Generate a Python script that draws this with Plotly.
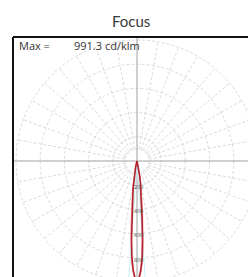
import numpy as np
import plotly.graph_objects as go

# ---- data ----
title_text = "Focus"
max_label = "Max ="
max_value_text = "991.3 cd/klm"
gamma_deg = [0, 1, 2, 3, 4, 5, 6, 7, 8, 9, 10, 12, 15, 20, 30, 45, 60, 75, 90]
plane_c0 = [991.3, 965, 900, 800, 650, 480, 360, 280, 225, 175, 125, 60, 22, 6, 2, 1, 0, 0, 0]
plane_c90 = [991.3, 975, 925, 845, 720, 580, 450, 350, 280, 220, 170, 90, 35, 10, 3, 1, 0, 0, 0]
ring_values = [100, 200, 400, 600, 800, 1000]
ring_labels = ["200", "400", "600", "800"]
ring_label_values = [200, 400, 600, 800]
spoke_step_deg = 10
beam_half_angle_deg = 4

# ---- layout geometry (pixels) ----
W, H = 248, 277
L, T = 13, 37
cx_px, cy_px = 137, 161
px_per_unit = 121 / 1000.0

x_range = [(L - cx_px) / px_per_unit, (W - cx_px) / px_per_unit]
y_range = [(cy_px - H) / px_per_unit, (cy_px - T) / px_per_unit]

fig = go.Figure()

grid_col = "#d0d0d0"

# rings
shapes = []
for rv in ring_values:
    shapes.append(dict(type="circle", xref="x", yref="y", x0=-rv, y0=-rv, x1=rv, y1=rv,
                       line=dict(color=grid_col, width=0.8, dash="3px,2px"), layer="below"))

# spokes
sx, sy = [], []
r_in, r_out = ring_values[0], ring_values[-1]
for a in range(0, 360, spoke_step_deg):
    if a % 90 == 0:
        continue
    t = np.deg2rad(a)
    sx += [float(r_in * np.sin(t)), float(r_out * np.sin(t)), None]
    sy += [float(r_in * np.cos(t)), float(r_out * np.cos(t)), None]
fig.add_trace(go.Scatter(x=sx, y=sy, mode="lines",
                         line=dict(color=grid_col, width=0.8, dash="3px,2px"),
                         hoverinfo="skip", showlegend=False))

# main axes through centre
fig.add_trace(go.Scatter(x=[x_range[0], x_range[1], None, 0, 0],
                         y=[0, 0, None, y_range[0], y_range[1]], mode="lines",
                         line=dict(color="#a0a0a0", width=1), hoverinfo="skip", showlegend=False))

# beam angle lines
bx, by = [], []
for s in (-1, 1):
    t = np.deg2rad(s * beam_half_angle_deg)
    bx += [0.0, float(1100 * np.sin(t)), None]
    by += [0.0, float(-1100 * np.cos(t)), None]
fig.add_trace(go.Scatter(x=bx, y=by, mode="lines",
                         line=dict(color="#c4eef2", width=1),
                         hoverinfo="skip", showlegend=False))


def curve(vals):
    g = np.deg2rad(np.array(gamma_deg, dtype=float))
    v = np.array(vals, dtype=float)
    gg = np.concatenate([-g[::-1], g[1:]])
    vv = np.concatenate([v[::-1], v[1:]])
    return (vv * np.sin(gg)).tolist(), (-vv * np.cos(gg)).tolist()


x2, y2 = curve(plane_c90)
fig.add_trace(go.Scatter(x=x2, y=y2, mode="lines", line=dict(color="#f29a9a", width=1),
                         hoverinfo="skip", showlegend=False))
x1, y1 = curve(plane_c0)
fig.add_trace(go.Scatter(x=x1, y=y1, mode="lines", line=dict(color="#b3212d", width=1.6),
                         hoverinfo="skip", showlegend=False))

annotations = []
for lab, v in zip(ring_labels, ring_label_values):
    annotations.append(dict(x=15, y=-v - 15, xref="x", yref="y", text=lab, showarrow=False,
                            font=dict(size=5, color="#555555", family="DejaVu Sans")))

annotations.append(dict(x=(17 - L) / (W - L), y=1 - (46 - T) / (H - T), xref="paper", yref="paper",
                        text=max_label, showarrow=False, xanchor="left", yanchor="middle",
                        font=dict(size=11, color="#333333", family="Open Sans")))
annotations.append(dict(x=(72 - L) / (W - L), y=1 - (46 - T) / (H - T), xref="paper", yref="paper",
                        text=max_value_text, showarrow=False, xanchor="left", yanchor="middle",
                        font=dict(size=11, color="#333333", family="Open Sans")))
# title as an annotation
annotations.append(dict(x=(131 - L) / (W - L), y=1 + (T - 21) / (H - T), xref="paper", yref="paper",
                        text=title_text, showarrow=False, xanchor="center", yanchor="middle",
                        font=dict(size=15, color="#3a3a3a", family="Lato")))

# box borders (left and top)
shapes.append(dict(type="line", xref="paper", yref="paper", x0=0, x1=0, y0=0, y1=1,
                   line=dict(color="#111111", width=2), layer="above"))
shapes.append(dict(type="line", xref="paper", yref="paper", x0=0, x1=1, y0=1, y1=1,
                   line=dict(color="#111111", width=2), layer="above"))

fig.update_layout(
    width=W, height=H,
    margin=dict(l=L, r=0, t=T, b=0),
    paper_bgcolor="white", plot_bgcolor="white",
    xaxis=dict(range=x_range, visible=False, fixedrange=True),
    yaxis=dict(range=y_range, visible=False, fixedrange=True),
    shapes=shapes, annotations=annotations, showlegend=False,
)

fig.write_html("out.html", config={"displayModeBar": False},
               post_script=("document.documentElement.style.overflow='hidden';"
                            "document.body.style.margin='0';document.body.style.overflow='hidden';"))
